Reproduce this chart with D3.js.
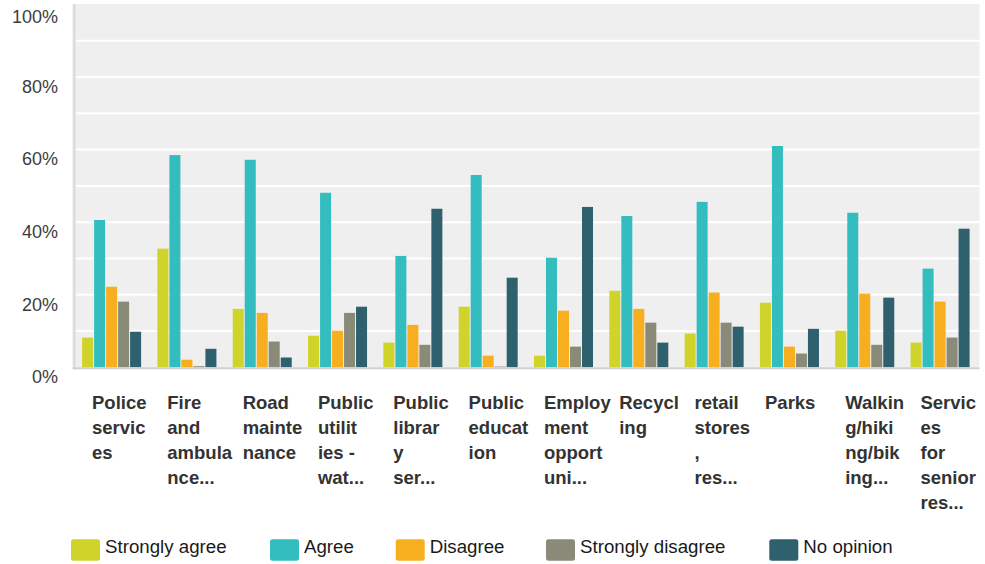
<!DOCTYPE html>
<html>
<head>
<meta charset="utf-8">
<script src="https://cdn.jsdelivr.net/npm/d3@7/dist/d3.min.js"></script>
<style>
  html, body { margin: 0; padding: 0; background: #fff; }
  svg { display: block; font-family: "Liberation Sans", Arial, sans-serif; }
</style>
</head>
<body>
<svg id="chart" width="985" height="564"></svg>
<script>
// ---- data ----
const categoryLabels = [
  ["Police", "servic", "es"],
  ["Fire", "and", "ambula", "nce..."],
  ["Road", "mainte", "nance"],
  ["Public", "utilit", "ies -", "wat..."],
  ["Public", "librar", "y", "ser..."],
  ["Public", "educat", "ion"],
  ["Employ", "ment", "opport", "uni..."],
  ["Recycl", "ing"],
  ["retail", "stores", ",", "res..."],
  ["Parks"],
  ["Walkin", "g/hiki", "ng/bik", "ing..."],
  ["Servic", "es", "for", "senior", "res..."]
];
const seriesNames = ["Strongly agree", "Agree", "Disagree", "Strongly disagree", "No opinion"];
const seriesColors = ["#d0d42a", "#33bdbf", "#f7ae1f", "#8a8a79", "#2e606e"];
const stronglyAgree    = [8.2, 32.7, 16.1, 8.7, 6.8, 16.7, 3.2, 21.1, 9.3, 17.8, 10.1, 6.8];
const agree            = [40.6, 58.5, 57.2, 48.1, 30.7, 53.0, 30.2, 41.7, 45.6, 61.0, 42.6, 27.2];
const disagree         = [22.2, 2.1, 15.0, 10.1, 11.7, 3.2, 15.6, 16.1, 20.6, 5.7, 20.3, 18.1];
const stronglyDisagree = [18.1, 0.3, 7.1, 15.0, 6.2, 0.2, 5.7, 12.3, 12.3, 3.8, 6.2, 8.2];
const noOpinion        = [9.8, 5.1, 2.7, 16.7, 43.7, 24.7, 44.2, 6.8, 11.2, 10.6, 19.2, 38.2];
const yTicks = [0, 20, 40, 60, 80, 100];
const yGrid = [10, 20, 30, 40, 50, 60, 70, 80, 90];

const seriesValues = [stronglyAgree, agree, disagree, stronglyDisagree, noOpinion];
const cats = categoryLabels.map((d, i) => i);

// ---- layout ----
const svg = d3.select("#chart");
const plotLeft = 75.7, plotRight = 979.5, plotTop = 4.5, plotBottom = 367.3;

const x0 = d3.scaleBand().domain(cats).range([plotLeft, plotRight]).padding(0);
const x1 = d3.scaleBand().domain(d3.range(seriesNames.length))
  .range([6.4, 65.4]).paddingInner(1 / 12).paddingOuter(0);
const y = d3.scaleLinear().domain([0, 100]).range([plotBottom, plotTop]);

// background
svg.append("rect")
  .attr("x", plotLeft).attr("y", plotTop - 0.5)
  .attr("width", plotRight - plotLeft).attr("height", plotBottom - plotTop + 0.5)
  .attr("fill", "#efefef");

// gridlines
svg.append("g").selectAll("line").data(yGrid).join("line")
  .attr("x1", plotLeft).attr("x2", plotRight)
  .attr("y1", d => y(d)).attr("y2", d => y(d))
  .attr("stroke", "#ffffff").attr("stroke-width", 2);

// left axis strip
svg.append("rect")
  .attr("x", 72.7).attr("y", plotTop - 0.5)
  .attr("width", 3).attr("height", plotBottom - plotTop + 2.5)
  .attr("fill", "#dcdcdc");

// bars
const groups = svg.append("g").selectAll("g").data(cats).join("g")
  .attr("transform", d => `translate(${x0(d)},0)`);
groups.selectAll("rect")
  .data(ci => seriesValues.map((vals, si) => ({ si, v: vals[ci] })))
  .join("rect")
  .attr("x", d => x1(d.si))
  .attr("width", x1.bandwidth())
  .attr("y", d => y(d.v))
  .attr("height", d => y(0) - y(d.v))
  .attr("fill", d => seriesColors[d.si]);

// bottom axis line
svg.append("line")
  .attr("x1", 72.7).attr("x2", plotRight)
  .attr("y1", plotBottom + 1).attr("y2", plotBottom + 1)
  .attr("stroke", "#cfcfcf").attr("stroke-width", 2);

// y axis labels
const yAxis = d3.axisLeft(y).tickValues(yTicks).tickFormat(d => d + "%").tickSize(0).tickPadding(0);
const yg = svg.append("g").attr("transform", "translate(58,0)").call(yAxis);
yg.select(".domain").remove();
yg.selectAll("text")
  .attr("font-family", "\"Liberation Sans\", Arial, sans-serif")
  .attr("font-size", 18).attr("fill", "#3d3d3d")
  .attr("dy", d => (d === 100 ? 12 : 9) + 6.3);

// x labels
const xl = svg.append("g");
categoryLabels.forEach((lines, i) => {
  const single = lines.length === 1;
  const t = xl.append("text")
    .attr("font-size", 18.5).attr("font-weight", "bold").attr("fill", "#333")
    .attr("text-anchor", single ? "middle" : "start");
  const xx = single ? x0(i) + x0.bandwidth() / 2 - 1 : x0(i) + 16.3;
  lines.forEach((ln, j) => {
    t.append("tspan").attr("x", xx).attr("y", 409 + j * 25).text(ln);
  });
});

// legend (layout positions of the items)
const legendX = [71, 270, 395.7, 546, 769.3];
const lg = svg.append("g");
seriesNames.forEach((name, i) => {
  const lx = legendX[i];
  lg.append("rect")
    .attr("x", lx).attr("y", 539.3).attr("width", 29).attr("height", 21.4)
    .attr("rx", 2.5).attr("fill", seriesColors[i]);
  lg.append("text")
    .attr("x", lx + 34).attr("y", 553.3)
    .attr("font-size", 18.7).attr("fill", "#1a1a1a").text(name);
});
</script>
</body>
</html>
